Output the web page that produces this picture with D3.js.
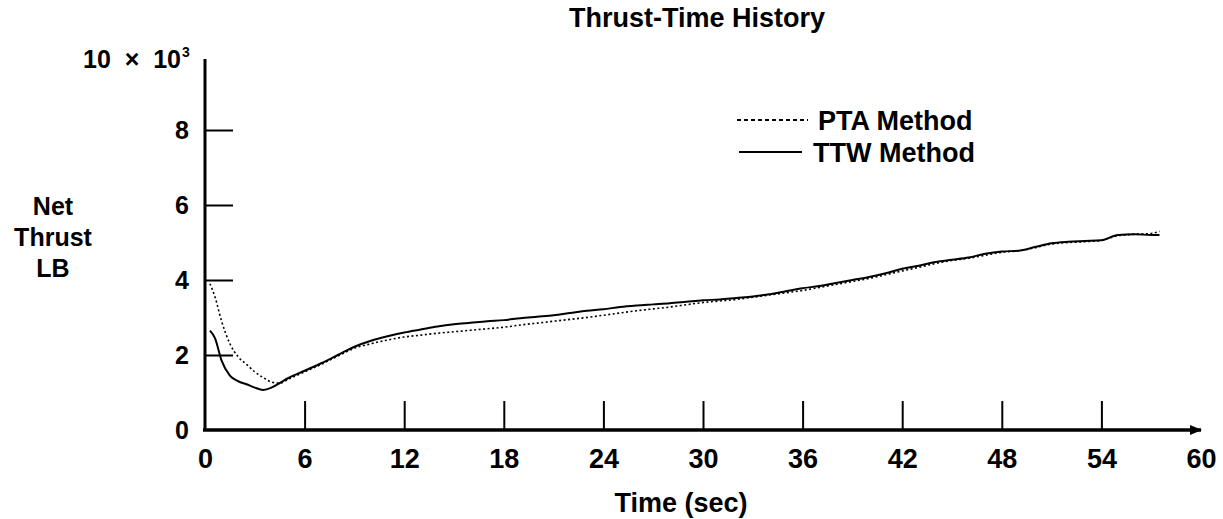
<!DOCTYPE html>
<html>
<head>
<meta charset="utf-8">
<script src="https://cdn.jsdelivr.net/npm/d3@7"></script>
<style>
  body { margin: 0; background: #fff; }
  svg { font-family: "Liberation Sans", Arial, Helvetica, sans-serif; font-weight: bold; }
</style>
</head>
<body>
<div id="chart"></div>
<script>
// Time samples (sec) shared by both series
const times = [0.3, 0.6, 1.0, 1.5, 2.0, 2.5, 3.0, 3.5, 4.0, 4.5, 5, 6, 7, 8, 9, 10, 11, 12, 13, 14,
  15, 16, 17, 18, 19, 20, 21, 22, 23, 24, 25, 26, 27, 28, 29, 30, 31, 32, 33, 34, 35, 36, 37, 38,
  39, 40, 41, 42, 43, 44, 45, 46, 47, 48, 49, 50, 51, 52, 53, 54, 55, 56, 57, 57.5];

// Net thrust, thousands of lb
const ttwValues = [2.65, 2.45, 1.85, 1.45, 1.3, 1.22, 1.13, 1.07, 1.13, 1.25, 1.38, 1.58, 1.78, 2.0,
  2.22, 2.38, 2.5, 2.6, 2.68, 2.76, 2.82, 2.86, 2.9, 2.93, 2.98, 3.02, 3.06, 3.12, 3.18, 3.22, 3.28,
  3.32, 3.35, 3.38, 3.42, 3.46, 3.48, 3.52, 3.56, 3.62, 3.7, 3.78, 3.84, 3.92, 4.0, 4.08, 4.18, 4.3,
  4.38, 4.48, 4.54, 4.6, 4.7, 4.76, 4.78, 4.88, 4.98, 5.02, 5.04, 5.06, 5.2, 5.22, 5.2, 5.2];

const ptaValues = [3.9, 3.55, 2.9, 2.3, 1.95, 1.75, 1.55, 1.4, 1.28, 1.25, 1.35, 1.55, 1.75, 1.97,
  2.18, 2.3, 2.4, 2.48, 2.53, 2.58, 2.62, 2.66, 2.7, 2.74, 2.8, 2.85, 2.9, 2.95, 3.0, 3.06, 3.12,
  3.18, 3.23, 3.28, 3.34, 3.4, 3.44, 3.48, 3.54, 3.6, 3.66, 3.72, 3.8, 3.88, 3.96, 4.04, 4.14, 4.24,
  4.34, 4.44, 4.52, 4.58, 4.66, 4.74, 4.78, 4.86, 4.96, 5.0, 5.02, 5.06, 5.18, 5.22, 5.24, 5.3];

const xTicks = [0, 6, 12, 18, 24, 30, 36, 42, 48, 54, 60];
const yTicks = [0, 2, 4, 6, 8];

const width = 1223, height = 519;

const svg = d3.select("#chart")
  .append("svg")
  .attr("width", width)
  .attr("height", height);

const x = d3.scaleLinear().domain([0, 60]).range([205, 1201]);
const y = d3.scaleLinear().domain([0, 10]).range([430, 55]);

// arrow head for the time axis
svg.append("defs").append("marker")
  .attr("id", "arrow")
  .attr("viewBox", "0 0 10 10")
  .attr("refX", 9).attr("refY", 5)
  .attr("markerWidth", 3.5).attr("markerHeight", 3.5)
  .attr("orient", "auto")
  .append("path")
  .attr("d", "M0,1 L10,5 L0,9 Z")
  .attr("fill", "#000");

// X axis
const xAxis = svg.append("g")
  .attr("transform", `translate(0,${y(0)})`)
  .call(d3.axisBottom(x).tickValues(xTicks).tickSize(-29).tickSizeOuter(0));
xAxis.select(".domain").remove();
xAxis.selectAll(".tick line")
  .attr("stroke-width", 2)
  .attr("display", d => (d === 0 || d === 60) ? "none" : null);
xAxis.selectAll(".tick text")
  .attr("dy", null)
  .attr("y", 38)
  .attr("font-size", 27)
  .attr("font-weight", "bold")
  .attr("font-family", "Liberation Sans, Arial, sans-serif");
svg.append("line")
  .attr("x1", x(0) - 2).attr("x2", x(60))
  .attr("y1", y(0)).attr("y2", y(0))
  .attr("stroke", "#000").attr("stroke-width", 3.5)
  .attr("marker-end", "url(#arrow)");

// Y axis
const yAxis = svg.append("g")
  .attr("transform", `translate(${x(0)},0)`)
  .call(d3.axisLeft(y).tickValues(yTicks).tickSize(-28).tickPadding(16).tickSizeOuter(0));
yAxis.select(".domain").remove();
yAxis.selectAll(".tick line")
  .attr("stroke-width", 2)
  .attr("display", d => d === 0 ? "none" : null);
yAxis.selectAll(".tick text")
  .attr("font-size", 25)
  .attr("font-weight", "bold")
  .attr("font-family", "Liberation Sans, Arial, sans-serif");
svg.append("line")
  .attr("x1", x(0)).attr("x2", x(0))
  .attr("y1", y(0) + 1).attr("y2", 59)
  .attr("stroke", "#000").attr("stroke-width", 3);

// top label "10 x 10^3"
svg.append("text")
  .attr("x", 181).attr("y", 68)
  .attr("text-anchor", "end")
  .attr("font-size", 25)
  .attr("xml:space", "preserve")
  .text("10  \u00d7  10");
svg.append("text")
  .attr("x", 182).attr("y", 57)
  .attr("font-size", 14)
  .text("3");

// curves
const line = d3.line()
  .x(d => x(d[0]))
  .y(d => y(d[1]))
  .curve(d3.curveMonotoneX);

svg.append("path")
  .datum(times.map((t, i) => [t, ptaValues[i]]))
  .attr("d", line)
  .attr("fill", "none")
  .attr("stroke", "#000")
  .attr("stroke-width", 1.6)
  .attr("stroke-dasharray", "2,2.5");

svg.append("path")
  .datum(times.map((t, i) => [t, ttwValues[i]]))
  .attr("d", line)
  .attr("fill", "none")
  .attr("stroke", "#000")
  .attr("stroke-width", 2);

// legend
const legend = [
  { name: "PTA Method", dash: "4,3", y: 120, x1: 737, x2: 808, tx: 818 },
  { name: "TTW Method", dash: null, y: 152, x1: 739, x2: 802, tx: 813 }
];
legend.forEach(l => {
  svg.append("line")
    .attr("x1", l.x1).attr("x2", l.x2)
    .attr("y1", l.y).attr("y2", l.y)
    .attr("stroke", "#000").attr("stroke-width", 2)
    .attr("stroke-dasharray", l.dash);
  svg.append("text")
    .attr("x", l.tx).attr("y", l.y + 10)
    .attr("font-size", 27)
    .text(l.name);
});

// titles
svg.append("text")
  .attr("x", 697).attr("y", 27)
  .attr("text-anchor", "middle")
  .attr("font-size", 27)
  .text("Thrust-Time History");

svg.append("text")
  .attr("x", 681).attr("y", 512)
  .attr("text-anchor", "middle")
  .attr("font-size", 27)
  .text("Time (sec)");

const yLab = svg.append("text")
  .attr("text-anchor", "middle")
  .attr("font-size", 25);
["Net", "Thrust", "LB"].forEach((s, i) => {
  yLab.append("tspan").attr("x", 53).attr("y", 215 + i * 31).text(s);
});
</script>
</body>
</html>
